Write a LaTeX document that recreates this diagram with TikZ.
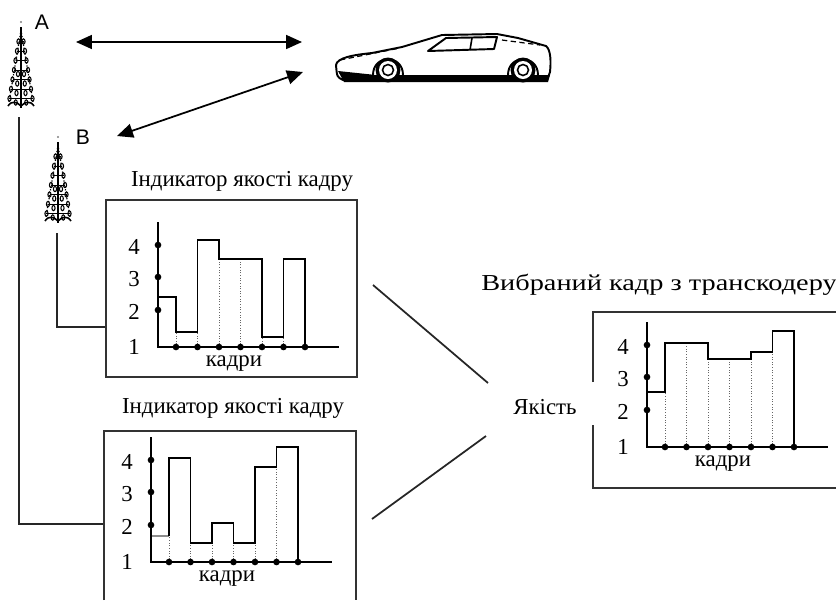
\documentclass[tikz,border=0pt]{standalone}
\usepackage{fontspec}
\setmainfont{Liberation Serif}
\newfontfamily\markfont{Liberation Sans}
\usetikzlibrary{arrows.meta}

\tikzset{
  wire/.style={line width=0.8pt, black!85},
  box/.style={line width=0.9pt, black!80},
  axis/.style={line width=1.1pt},
  bars/.style={line width=0.7pt},
  drop/.style={densely dotted, line width=0.5pt, black!60},
  lbl/.style={font=\fontsize{13}{15}\selectfont, inner sep=0pt},
  link/.style={line width=1pt, {Triangle[length=3.2mm,width=2.8mm]}-{Triangle[length=3.2mm,width=2.8mm]}},
  carline/.style={line width=1.1pt, line join=round},
  loop/.style={line width=0.6pt, x radius=0.9pt, y radius=1.5pt},
  mast/.pic={
    \fill[black!50] (0,0) circle[radius=0.6pt];
    \draw[line width=1.1pt] (0,5) -- (0,86);
    \draw[densely dotted, line width=0.7pt] (0,8) -- (-12,80) (0,8) -- (12,80);
    \foreach \i in {1,...,7}{
      \draw[loop] ({-1.5*\i-1},{9.5*\i+10}) ellipse[] ({1.5*\i+1},{9.5*\i+10}) ellipse[];
      \draw[line width=0.5pt] ({-1.5*\i-1},{9.5*\i+10}) -- ({1.5*\i+1},{9.5*\i+10});
    }
    \foreach \i in {4,...,7}
      \draw[loop] ({-0.75*\i},{9.5*\i+14}) ellipse[] ({0.75*\i},{9.5*\i+14}) ellipse[];
    \draw[line width=0.9pt] (-13,84) .. controls (-9,78) and (-4,80) .. (0,84)
      .. controls (4,80) and (9,78) .. (13,84);
  }
}

% axes, level marks and frame marks of one quality plot
\newcommand{\qaxes}{%
  \draw[axis] (0,-125) -- (0,0) -- (181,0);
  \foreach \v/\t in {37/2,70/3,102/4}{
    \fill (0,-\v) circle[radius=1.9pt];
    \node[lbl] (v\t) at (-24,-\v+2) {\t};
  }
  \node[lbl] (v1) at (-24,0) {1};
  \foreach \d in {18,39.5,61,82.5,104,125.5,147}
    \fill (\d,0) circle[radius=1.9pt];
  \node[lbl] (frames) at (76,17) {кадри};
}

\begin{document}
\begin{tikzpicture}[x=0.02cm, y=-0.02cm]
\useasboundingbox (0,0) rectangle (836,600);

% base stations
\pic at (21,22) {mast};
\pic at (58,137) {mast};
\node[font=\markfont\fontsize{12}{14}\selectfont, inner sep=0pt] (labA) at (42,22) {A};
\node[font=\markfont\fontsize{12}{14}\selectfont, inner sep=0pt] (labB) at (83,137) {B};

% the car
\draw[carline, fill=white] (336,65) .. controls (337,58) and (352,55) .. (372,53)
  -- (402,47) -- (442,35) -- (497,34) -- (518,38) -- (546,46)
  .. controls (551,50) and (551,62) .. (550,72) -- (547,80) -- (343,80)
  .. controls (337,77) .. cycle;
\fill (338,71) -- (376,75) -- (550,75) -- (548,82) -- (344,82) -- cycle;
\draw[carline, fill=white] (373,75) .. controls (373,54) and (403,54) .. (403,75);
\draw[carline, fill=white] (508,75) .. controls (508,54) and (538,54) .. (538,75);
\foreach \c in {(388,70),(523,70)}{
  \fill \c circle[radius=0.25cm];
  \fill[white] \c circle[radius=0.18cm];
  \draw[line width=0.9pt] \c circle[radius=0.11cm];
}
\draw[carline] (428,51) -- (446,38) -- (497,37) -- (494,49) -- cycle;
\draw[line width=0.9pt] (472,38) -- (470,50);
\draw[densely dashed, line width=0.7pt] (502,40) -- (540,45);
\draw[densely dashed, line width=0.7pt] (340,60) -- (400,48);

% radio links
\coordinate (tipA) at (76,42);
\coordinate (carA) at (302,42);
\coordinate (tipB) at (117,136);
\coordinate (carB) at (303,72);
\draw[link] (tipA) -- (carA);
\draw[link] (tipB) -- (carB);

% feeds from the masts
\coordinate (footA) at (19,117);
\coordinate (inA) at (104,524);
\coordinate (footB) at (57,233);
\coordinate (inB) at (106,327);
\draw[wire] (footA) |- (inA);
\draw[wire] (footB) |- (inB);

% frames
\draw[box] (106,200) rectangle (357,377);
\draw[box] (104,600) -- (104,431) -- (356,431) -- (356,600);
\draw[box] (593,382) -- (593,312) -- (836,312);
\draw[box] (593,425) -- (593,488) -- (836,488);

\node[lbl] (titleB) at (242,181) {Індикатор якості кадру};
\node[lbl] (titleA) at (233,408) {Індикатор якості кадру};
\node[lbl, font=\fontsize{13}{15}\selectfont\addfontfeatures{FakeStretch=1.24}] (titleOut) at (659,285) {Вибраний кадр з транскодеру};
\node[lbl] (quality) at (545,407) {Якість};

% plot of station B
\begin{scope}[shift={(158,347)}, name prefix=b-]
  \foreach \d/\h in {18/15,39.5/15,61/88,82.5/88,104/10,125.5/10}
    \draw[drop] (\d,0) -- (\d,-\h);
  \draw[bars] (0,-50) -| (18,-15) -| (39.5,-107) -| (61,-88) -| (104,-10) -| (125.5,-88) -| (147,0);
  \qaxes
\end{scope}

% plot of station A
\begin{scope}[shift={(151,562)}, name prefix=a-]
  \foreach \d/\h in {18/26,39.5/19,61/19,82.5/19,104/19,125.5/95}
    \draw[drop] (\d,0) -- (\d,-\h);
  \draw[bars, black!45] (0,-26) -- (18,-26);
  \draw[bars] (18,-26) -- (18,-104) -| (39.5,-19) -| (61,-39) -| (82.5,-19) -| (104,-95) -| (125.5,-115) -| (147,0);
  \qaxes
\end{scope}

% plot after the transcoder
\begin{scope}[shift={(647,447)}, name prefix=t-]
  \foreach \d/\h in {18/55,39.5/104,61/88,82.5/88,104/88,125.5/95}
    \draw[drop] (\d,0) -- (\d,-\h);
  \draw[bars] (0,-55) -| (18,-104) -| (61,-88) -| (104,-95) -| (125.5,-116) -| (147,0);
  \qaxes
\end{scope}

% both indicators feed the selection
\coordinate (outB) at (373,285);
\coordinate (selB) at (488,383);
\coordinate (outA) at (372,519);
\coordinate (selA) at (486,436);
\draw[wire, line width=1pt] (outB) -- (selB);
\draw[wire, line width=1pt] (outA) -- (selA);
\end{tikzpicture}
\end{document}
